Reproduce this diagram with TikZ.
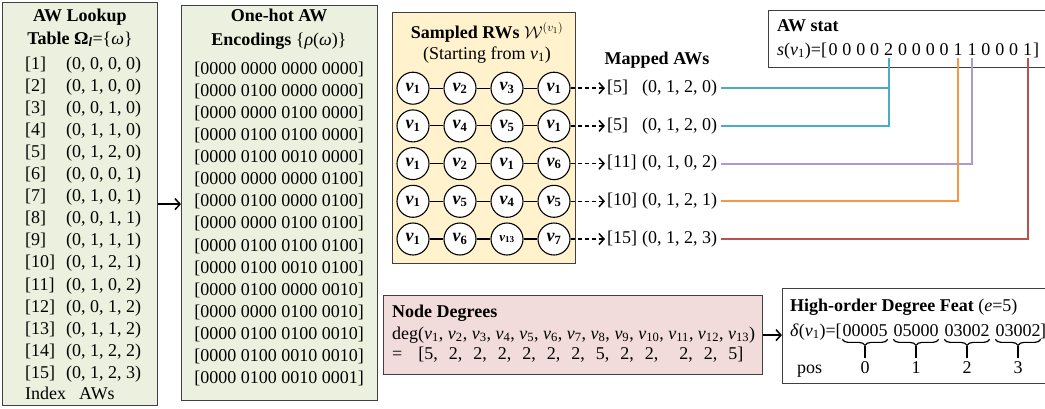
\documentclass[tikz,border=0pt]{standalone}
\usepackage{fontspec}
\setmainfont{Liberation Serif}
\usetikzlibrary{arrows.meta,positioning,calc,decorations.pathreplacing}
\definecolor{TableGreen}{RGB}{235,241,222}
\definecolor{WalkYellow}{RGB}{255,242,204}
\definecolor{DegreePink}{RGB}{242,220,219}
\definecolor{EdgeGray}{RGB}{64,64,64}
\definecolor{StatTeal}{RGB}{75,172,198}
\definecolor{StatPurple}{RGB}{172,155,210}
\definecolor{StatOrange}{RGB}{247,150,70}
\definecolor{StatRed}{RGB}{192,80,77}
\newcommand{\figfont}{\fontsize{18}{21}\selectfont}
\newcommand{\vnode}[1]{\textit{v}\textsubscript{#1}}
\newcommand{\wv}[1]{\textbf{\vnode{#1}}}
\newcommand{\wvs}[1]{{\fontsize{13}{15}\selectfont\textbf{\vnode{#1}}}}
\newcommand{\dgap}{\hspace{11pt}}

\begin{document}
\begin{tikzpicture}[x=1pt,y=-1pt,
    panel/.style={draw=EdgeGray,line width=1.2pt,anchor=north west,inner sep=0pt},
    head/.style={font=\figfont\bfseries,inner sep=0pt,anchor=base},
    cell/.style={font=\figfont,inner sep=0pt,anchor=base west},
    walk/.style={circle,draw,fill=white,line width=1.1pt,minimum size=32pt,inner sep=0pt,font=\figfont},
    link/.style={line width=1.1pt},
    arr/.style={-{Straight Barb[length=5pt,width=11pt]},line width=1.5pt},
    maparr/.style={arr,dash pattern=on 4pt off 3pt,shorten >=2pt},
    statline/.style={line width=1.8pt,shorten <=4pt,shorten >=3pt},
    brace/.style={decorate,decoration={brace,mirror,amplitude=6pt},line width=1.2pt}
  ]
  \useasboundingbox (0,0) rectangle (1045,408);
  \clip (0,0) rectangle (1045,408);

  % lookup table
  \node[panel,fill=TableGreen,minimum width=155pt,minimum height=403pt] (lookup) at (2,2) {};
  \node[head] (lookupA) at (80,21) {AW Lookup};
  \node[head] (lookupB) at (80,44) {Table Ω\textsubscript{\textit{l}}\textmd{=\{\textit{ω}\}}};
  \foreach \i/\aw in {1/{(0, 0, 0, 0)},2/{(0, 1, 0, 0)},3/{(0, 0, 1, 0)},4/{(0, 1, 1, 0)},
      5/{(0, 1, 2, 0)},6/{(0, 0, 0, 1)},7/{(0, 1, 0, 1)},8/{(0, 0, 1, 1)},9/{(0, 1, 1, 1)},
      10/{(0, 1, 2, 1)},11/{(0, 1, 0, 2)},12/{(0, 0, 1, 2)},13/{(0, 1, 1, 2)},
      14/{(0, 1, 2, 2)},15/{(0, 1, 2, 3)}}{
    \node[cell] (idx\i) at (25,{69+(\i-1)*22.1}) {[\i]};
    \node[cell] (aw\i) at (66,{69+(\i-1)*22.1}) {\aw};
  }
  \node[cell] (lookupC) at (25,399) {Index\hspace{13pt}AWs};

  % one-hot encodings
  \node[panel,fill=TableGreen,minimum width=196pt,minimum height=395pt] (onehot) at (181,5) {};
  \node[head] (onehotA) at (279,21) {One-hot AW};
  \node[head] (onehotB) at (279,45) {Encodings \textmd{\{\textit{ρ}(\textit{ω})\}}};
  \foreach \code [count=\i] in {0000 0000 0000 0000,0000 0100 0000 0000,0000 0000 0100 0000,
      0000 0100 0100 0000,0000 0100 0010 0000,0000 0000 0000 0100,0000 0100 0000 0100,
      0000 0000 0100 0100,0000 0100 0100 0100,0000 0100 0010 0100,0000 0100 0000 0010,
      0000 0000 0100 0010,0000 0100 0100 0010,0000 0100 0010 0010,0000 0100 0010 0001}
    \node[cell,anchor=base] (code\i) at (279,{74+(\i-1)*22.14}) {[\code]};
  \draw[arr] (lookup.east) -- (lookup.east -| onehot.west);

  % sampled random walks
  \node[panel,fill=WalkYellow,minimum width=183pt,minimum height=251pt] (sampled) at (392,12) {};
  \node[head] (sampledA) at (487,38) {Sampled RWs \textmd{$\mathcal{W}^{(v_1)}$}};
  \node[cell,anchor=base] (sampledB) at (487,59) {(Starting from \vnode{1})};
  \foreach \r/\labs in {1/{\wv{1},\wv{2},\wv{3},\wv{1}},2/{\wv{1},\wv{4},\wv{5},\wv{1}},
      3/{\wv{1},\wv{2},\wv{1},\wv{6}},4/{\wv{1},\wv{5},\wv{4},\wv{5}},
      5/{\wv{1},\wv{6},\wvs{13},\wv{7}}}{
    \foreach \lab [count=\c] in \labs
      \node[walk] (w\r-\c) at ({366+47*\c},{50.5+37.7*\r}) {\lab};
    \foreach \c [evaluate=\c as \p using int(\c-1)] in {2,3,4}
      \draw[link] (w\r-\p) -- (w\r-\c);
  }

  % mapped AWs
  \node[head] (mappedA) at (657,64) {Mapped AWs};
  \foreach \r/\id/\aw in {1/5/{(0, 1, 2, 0)},2/5/{(0, 1, 2, 0)},3/11/{(0, 1, 0, 2)},
      4/10/{(0, 1, 2, 1)},5/15/{(0, 1, 2, 3)}}{
    \node[cell,anchor=west] (m\r) at (607,{50.5+37.7*\r}) {\makebox[35pt][l]{[\id]}\aw};
    \draw[maparr] (w\r-4) -- (w\r-4 -| m\r.west);
  }

  % AW stat
  \node[panel,fill=white,minimum width=300pt,minimum height=57pt] (stat) at (768,10) {};
  \node[cell] (statA) at (777,31) {\textbf{AW stat}};
  \node[cell] (statB) at (777,55) {\textit{s}(\vnode{1})=[};
  \foreach \d [count=\k] in {0,0,0,0,2,0,0,0,0,1,1,0,0,0,1}
    \node[cell,anchor=base] (dg\k) at ({833+13.9*(\k-1)},55) {\d};
  \node[cell] (statC) at (1033,55) {]};
  \draw[statline,StatTeal] (m1.east) -| (dg5.south);
  \draw[statline,StatTeal] (m2.east) -| (dg5.south);
  \draw[statline,StatPurple] (m3.east) -| (dg11.south);
  \draw[statline,StatOrange] (m4.east) -| (dg10.south);
  \draw[statline,StatRed] (m5.east) -| (dg15.south);

  % node degrees
  \node[panel,fill=DegreePink,minimum width=379pt,minimum height=79pt] (deg) at (383,295) {};
  \node[cell] (degA) at (392,317) {\textbf{Node Degrees}};
  \node[cell] (degB) at (392,339) {deg(\vnode{1}, \vnode{2}, \vnode{3}, \vnode{4}, \vnode{5}, \vnode{6}, \vnode{7}, \vnode{8}, \vnode{9}, \vnode{10}, \vnode{11}, \vnode{12}, \vnode{13})};
  \node[cell] (degC) at (392,359) {=\hspace{16pt}[5,\dgap 2,\dgap 2,\dgap 2,\dgap 2,\dgap 2,\dgap 2,\dgap 5,\dgap 2,\dgap 2,\hspace{21pt}2,\dgap 2,\dgap 5]};

  % high-order degree feature
  \node[panel,fill=white,minimum width=300pt,minimum height=95pt] (hof) at (782,288) {};
  \draw[arr] (deg.east) -- (deg.east -| hof.west);
  \node[cell] (hofA) at (790,311) {\textbf{High-order Degree Feat} (\textit{e}=5)};
  \node[cell] (hofB) at (790,336) {\textit{δ}(\vnode{1})=[};
  \node[cell] (hofC) at (797,373) {pos};
  \foreach \g [count=\k from 0] in {00005,05000,03002,03002}{
    \node[cell,anchor=base] (grp\k) at ({865+51*\k},336) {\g};
    \node[cell,anchor=base] (pos\k) at ({865+51*\k},373) {\k};
    \draw[brace] ([yshift=-3pt]grp\k.south west) -- ([yshift=-3pt]grp\k.south east);
    \draw[line width=1.4pt,shorten >=3pt] ([yshift=-10pt]grp\k.south) -- (pos\k.north);
  }
  \node[cell] (hofD) at (1040,336) {]};
\end{tikzpicture}
\end{document}
